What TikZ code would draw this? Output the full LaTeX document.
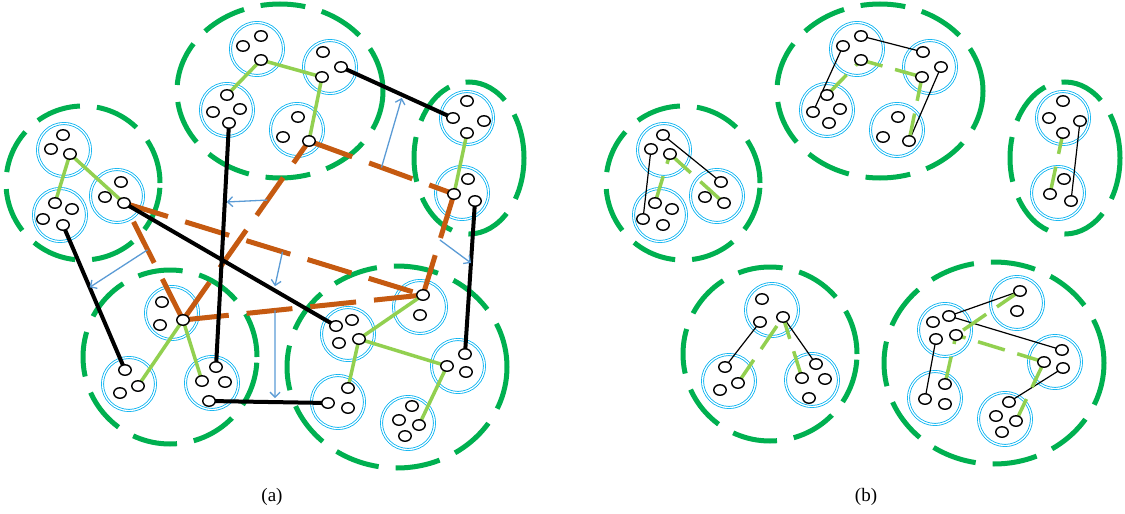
\documentclass[tikz,border=0pt]{standalone}
\usepackage{fontspec}
\setmainfont{Liberation Serif}
\usetikzlibrary{shapes.geometric,arrows.meta}
\definecolor{grp}{HTML}{00B050}
\definecolor{lg}{HTML}{92D050}
\definecolor{org}{HTML}{C55A11}
\definecolor{cy}{HTML}{00B0F0}
\definecolor{arb}{HTML}{5B9BD5}
\tikzset{
 grpring/.style={draw=grp, line width=5pt, dash pattern=on 45pt off 17pt},
 bc/.style={circle, draw=cy, double=white, double distance=1.3pt, line width=0.8pt, minimum size=53pt, inner sep=0pt},
 sc/.style={ellipse, draw=black, fill=white, line width=1.4pt, minimum width=12.5pt, minimum height=10.5pt, inner sep=0pt},
 lgl/.style={draw=lg, line width=3.5pt},
 lgd/.style={draw=lg, line width=3.5pt, dash pattern=on 28pt off 13pt},
 blk/.style={draw=black, line width=4pt},
 thinblk/.style={draw=black, line width=1.2pt},
 orl/.style={draw=org, line width=5pt, dash pattern=on 46pt off 18pt},
 arr/.style={draw=arb, line width=1.3pt, -{Straight Barb[length=5pt,width=10pt]}},
 lbl/.style={font=\fontsize{19}{22}\selectfont, inner sep=0pt},
}
\newcommand{\clA}[1]{%
 \draw[grpring] (83,183) circle[radius=77pt];
 \node[bc] (#1A1) at (64,150) {};
 \node[bc] (#1A2) at (60,215) {};
 \node[bc] (#1A3) at (117,196) {};
 \coordinate (#1A1a) at (63,135); \coordinate (#1A1b) at (51,149); \coordinate (#1A1c) at (70,154);
 \coordinate (#1A2a) at (55,203); \coordinate (#1A2b) at (72,209); \coordinate (#1A2c) at (43,219); \coordinate (#1A2d) at (63,225);
 \coordinate (#1A3a) at (121,182); \coordinate (#1A3b) at (105,197); \coordinate (#1A3c) at (124,203);
}
\newcommand{\clB}[1]{%
 \draw[grpring] (280,91) ellipse[x radius=103pt, y radius=87pt];
 \node[bc] (#1B1) at (257,49) {};
 \node[bc] (#1B2) at (330,67) {};
 \node[bc] (#1B3) at (227,110) {};
 \node[bc] (#1B4) at (297,130) {};
 \coordinate (#1B1a) at (261,36); \coordinate (#1B1b) at (243,46); \coordinate (#1B1c) at (261,60);
 \coordinate (#1B2a) at (323,52); \coordinate (#1B2b) at (341,67); \coordinate (#1B2c) at (322,77);
 \coordinate (#1B3a) at (227,95); \coordinate (#1B3b) at (213,112); \coordinate (#1B3c) at (240,109); \coordinate (#1B3d) at (229,123);
 \coordinate (#1B4a) at (298,117); \coordinate (#1B4b) at (283,137); \coordinate (#1B4c) at (309,141);
}
\newcommand{\clC}[1]{%
 \draw[grpring] (469,158) ellipse[x radius=55pt, y radius=76pt];
 \node[bc] (#1C1) at (467,118) {};
 \node[bc] (#1C2) at (462,193) {};
 \coordinate (#1C1a) at (467,101); \coordinate (#1C1b) at (453,118); \coordinate (#1C1c) at (484,121); \coordinate (#1C1d) at (467,133);
 \coordinate (#1C2a) at (468,179); \coordinate (#1C2b) at (454,194); \coordinate (#1C2c) at (475,201);
}
\newcommand{\clD}[1]{%
 \draw[grpring] (170,357) circle[radius=87pt];
 \node[bc] (#1D1) at (172,313) {};
 \node[bc] (#1D2) at (129,384) {};
 \node[bc] (#1D3) at (212,383) {};
 \coordinate (#1D1a) at (162,302); \coordinate (#1D1b) at (160,325); \coordinate (#1D1c) at (183,320);
 \coordinate (#1D2a) at (125,370); \coordinate (#1D2b) at (138,386); \coordinate (#1D2c) at (120,393);
 \coordinate (#1D3a) at (216,367); \coordinate (#1D3b) at (202,381); \coordinate (#1D3c) at (225,382); \coordinate (#1D3d) at (209,401);
}
\newcommand{\clE}[1]{%
 \draw[grpring] (397,367) ellipse[x radius=110pt, y radius=101pt];
 \node[bc] (#1E1) at (420,307) {};
 \node[bc] (#1E2) at (348,334) {};
 \node[bc] (#1E3) at (458,366) {};
 \node[bc] (#1E4) at (338,402) {};
 \node[bc] (#1E5) at (408,423) {};
 \coordinate (#1E1a) at (423,295); \coordinate (#1E1b) at (420,315);
 \coordinate (#1E2a) at (336,326); \coordinate (#1E2b) at (352,320); \coordinate (#1E2c) at (339,343); \coordinate (#1E2d) at (359,339);
 \coordinate (#1E3a) at (465,354); \coordinate (#1E3b) at (447,366); \coordinate (#1E3c) at (466,372);
 \coordinate (#1E4a) at (348,388); \coordinate (#1E4b) at (328,403); \coordinate (#1E4c) at (348,408);
 \coordinate (#1E5a) at (412,406); \coordinate (#1E5b) at (399,420); \coordinate (#1E5c) at (419,425); \coordinate (#1E5d) at (405,436);
}
\newcommand{\smalldots}[1]{%
 \foreach \n in {A1a,A1b,A1c,A2a,A2b,A2c,A2d,A3a,A3b,A3c,
   B1a,B1b,B1c,B2a,B2b,B2c,B3a,B3b,B3c,B3d,B4a,B4b,B4c,
   C1a,C1b,C1c,C1d,C2a,C2b,C2c,
   D1a,D1b,D1c,D2a,D2b,D2c,D3a,D3b,D3c,D3d,
   E1a,E1b,E2a,E2b,E2c,E2d,E3a,E3b,E3c,E4a,E4b,E4c,E5a,E5b,E5c,E5d}
   {\node[sc] at (#1\n) {};}%
}
\begin{document}
\begin{tikzpicture}[x=1pt,y=-1pt]
\useasboundingbox (0,0) rectangle (1125,514);
% ---------------- panel (a)
\clA{a}\clB{a}\clC{a}\clD{a}\clE{a}
% orange dashed links
\draw[orl] (aD1c) -- (aA3c);
\draw[orl] (aA3c) -- (aE1a);
\draw[orl] (aD1c) -- (aB4c);
\draw[orl] (aD1c) -- (aE1a);
\draw[orl] (aB4c) -- (aC2b);
\draw[orl] (aC2b) -- (aE1a);
% black links
\draw[blk] (aA2d) -- (aD2a);
\draw[blk] (aA3c) -- (aE2a);
\draw[blk] (aB2b) -- (aC1b);
\draw[blk] (aB3d) -- (aD3a);
\draw[blk] (aC2c) -- (aE3a);
\draw[blk] (aD3d) -- (aE4b);
% light green links
\draw[lgl] (aA1c) -- (aA2a);
\draw[lgl] (aA1c) -- (aA3c);
\draw[lgl] (aB1c) -- (aB3a);
\draw[lgl] (aB1c) -- (aB2c);
\draw[lgl] (aB2c) -- (aB4c);
\draw[lgl] (aC1d) -- (aC2b);
\draw[lgl] (aD1c) -- (aD2b);
\draw[lgl] (aD1c) -- (aD3b);
\draw[lgl] (aE1a) -- (aE2d);
\draw[lgl] (aE2d) -- (aE4a);
\draw[lgl] (aE2d) -- (aE3b);
\draw[lgl] (aE3b) -- (aE5c);
% arrows
\path (aB4c) -- (aC2b) coordinate[pos=0.5] (s1);
\path (aB2b) -- (aC1b) coordinate[pos=0.55] (t1);
\path (aB4c) -- (aD1c) coordinate[pos=0.33] (s2);
\path (aB3d) -- (aD3a) coordinate[pos=0.324] (t2);
\path (aA3c) -- (aD1c) coordinate[pos=0.40] (s3);
\path (aA2d) -- (aD2a) coordinate[pos=0.43] (t3);
\path (aA3c) -- (aE1a) coordinate[pos=0.53] (s4);
\path (aA3c) -- (aE2a) coordinate[pos=0.708] (t4);
\path (aD1c) -- (aE1a) coordinate[pos=0.383] (s5);
\path (aD3d) -- (aE4b) coordinate[pos=0.555] (t5);
\path (aC2b) -- (aE1a) coordinate[pos=0.455] (s6);
\path (aC2c) -- (aE3a) coordinate[pos=0.405] (t6);
\draw[arr, shorten >=3pt] (s1) -- (t1);
\draw[arr, shorten >=2pt] (s2) -- (t2);
\draw[arr] (s3) -- (t3);
\draw[arr, shorten >=4pt] (s4) -- (t4);
\draw[arr, shorten >=4pt] (s5) -- (t5);
\draw[arr] (s6) -- (t6);
\smalldots{a}
% ---------------- panel (b)
\begin{scope}[shift={(600,0)}]\clA{b}\clB{b}\end{scope}
\begin{scope}[shift={(596,0)}]\clC{b}\end{scope}
\begin{scope}[shift={(600,-3)}]\clD{b}\end{scope}
\begin{scope}[shift={(597,-4)}]\clE{b}\end{scope}
% black thin links
\draw[thinblk] (bA1a) -- (bA3a);
\draw[thinblk] (bA1b) -- (bA2c);
\draw[thinblk] (bB1a) -- (bB2a);
\draw[thinblk] (bB1b) -- (bB3b);
\draw[thinblk] (bB2b) -- (bB4c);
\draw[thinblk] (bC1c) -- (bC2c);
\draw[thinblk] (bD1b) -- (bD2a);
\draw[thinblk] (bD1c) -- (bD3a);
\draw[thinblk] (bE1a) -- (bE2b);
\draw[thinblk] (bE2b) -- (bE3a);
\draw[thinblk] (bE2c) -- (bE4b);
\draw[thinblk] (bE3c) -- (bE5a);
% light green dashed links
\draw[lgd] (bA2a) -- (bA1c);
\draw[lgd] (bA1c) -- (bA3c);
\draw[lgd] (bB3a) -- (bB1c);
\draw[lgd] (bB2c) -- (bB1c);
\draw[lgd] (bB4c) -- (bB2c);
\draw[lgd] (bC2b) -- (bC1d);
\draw[lgd] (bD2b) -- (bD1c);
\draw[lgd] (bD3b) -- (bD1c);
\draw[lgd] (bE1a) -- (bE2d);
\draw[lgd] (bE4a) -- (bE2d);
\draw[lgd] (bE3b) -- (bE2d);
\draw[lgd] (bE3b) -- (bE5c);
\smalldots{b}
% labels
\node[lbl] (la) at (272,497) {(a)};
\node[lbl] (lb) at (866,497) {(b)};
\end{tikzpicture}
\end{document}
